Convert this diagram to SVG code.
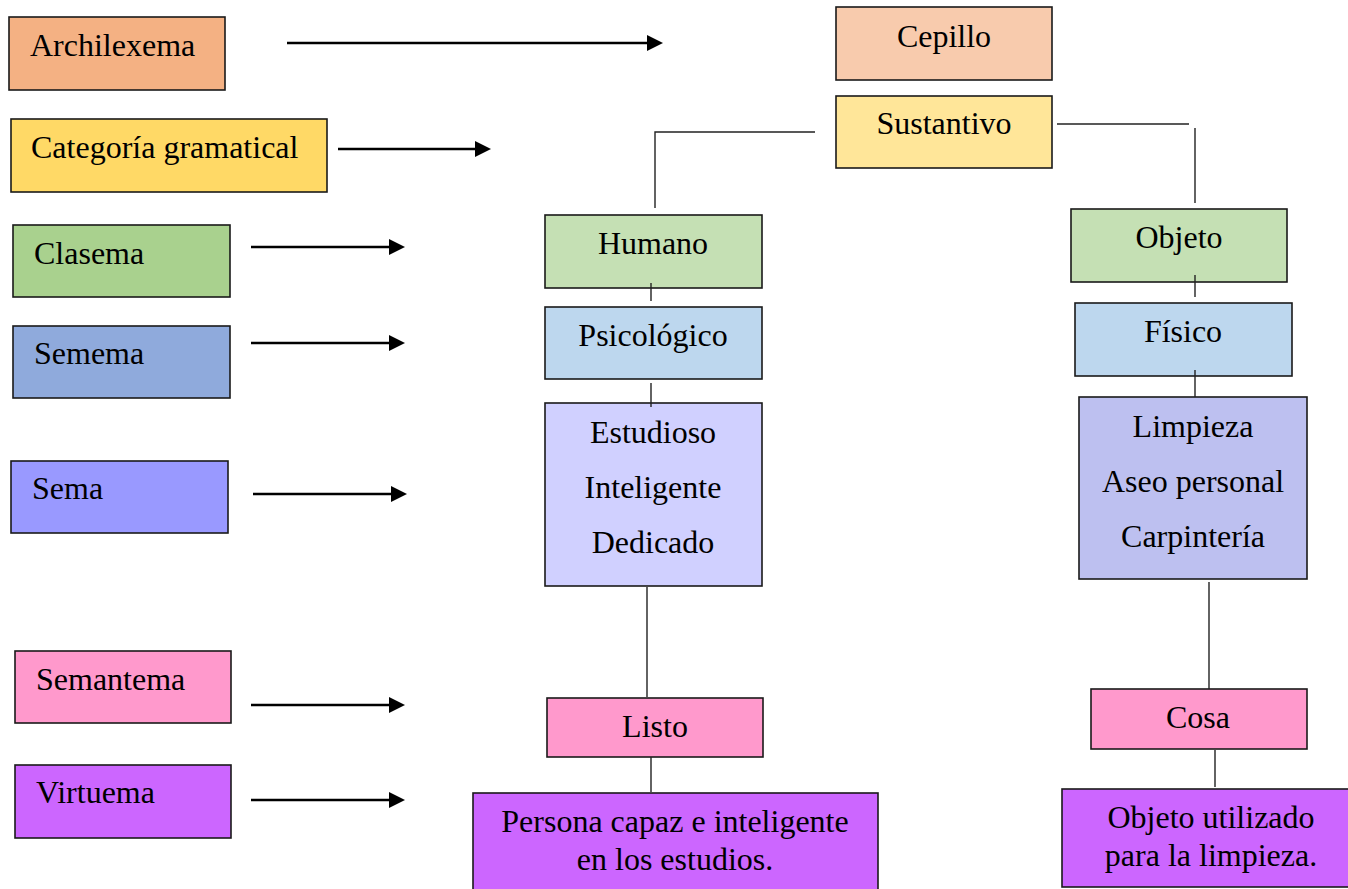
<svg xmlns="http://www.w3.org/2000/svg" width="1348" height="889" viewBox="0 0 1348 889">
  <style>
    .box { stroke: #1a1a1a; stroke-width: 1.6; }
    .lbl { font-family: "Liberation Serif", "Times New Roman", serif; font-size: 32px; fill: #000; }
    .mid { text-anchor: middle; }
    .arrow { stroke: #000; stroke-width: 2.7; fill: none; marker-end: url(#head); }
    .tree { stroke: #222; stroke-width: 1.4; fill: none; }
  </style>
  <defs>
    <marker id="head" markerUnits="userSpaceOnUse" markerWidth="17" markerHeight="17" refX="5" refY="8" orient="auto">
      <path d="M0,0 L16,8 L0,16 Z" fill="#000"/>
    </marker>
  </defs>
  <rect width="1348" height="889" fill="#fff"/>

  <!-- level labels (left column) -->
  <g id="archilexema">
    <rect class="box" x="9" y="17" width="216" height="73" fill="#F4B183"/>
    <text class="lbl" x="30" y="56">Archilexema</text>
  </g>
  <g id="categoria">
    <rect class="box" x="11" y="119" width="316" height="73" fill="#FFD966"/>
    <text class="lbl" x="31" y="158">Categoría gramatical</text>
  </g>
  <g id="clasema">
    <rect class="box" x="13" y="225" width="217" height="72" fill="#A9D18E"/>
    <text class="lbl" x="34" y="264">Clasema</text>
  </g>
  <g id="semema">
    <rect class="box" x="13" y="326" width="217" height="72" fill="#8FAADC"/>
    <text class="lbl" x="34" y="364">Semema</text>
  </g>
  <g id="sema">
    <rect class="box" x="11" y="461" width="217" height="72" fill="#9999FF"/>
    <text class="lbl" x="32" y="499">Sema</text>
  </g>
  <g id="semantema">
    <rect class="box" x="15" y="651" width="216" height="72" fill="#FF99CC"/>
    <text class="lbl" x="36" y="690">Semantema</text>
  </g>
  <g id="virtuema">
    <rect class="box" x="15" y="765" width="216" height="73" fill="#CC66FF"/>
    <text class="lbl" x="36" y="803">Virtuema</text>
  </g>

  <!-- tree nodes -->
  <g id="cepillo">
    <rect class="box" x="836" y="7" width="216" height="73" fill="#F8CBAD"/>
    <text class="lbl mid" x="944" y="47">Cepillo</text>
  </g>
  <g id="sustantivo">
    <rect class="box" x="836" y="96" width="216" height="72" fill="#FFE699"/>
    <text class="lbl mid" x="944" y="134">Sustantivo</text>
  </g>
  <g id="humano">
    <rect class="box" x="545" y="215" width="217" height="73" fill="#C5E0B4"/>
    <text class="lbl mid" x="653" y="254">Humano</text>
  </g>
  <g id="psicologico">
    <rect class="box" x="545" y="307" width="217" height="72" fill="#BDD7EE"/>
    <text class="lbl mid" x="653" y="346">Psicológico</text>
  </g>
  <g id="semas-humano">
    <rect class="box" x="545" y="403" width="217" height="183" fill="#D0D0FF"/>
    <text class="lbl mid" x="653" y="443">Estudioso</text>
    <text class="lbl mid" x="653" y="498">Inteligente</text>
    <text class="lbl mid" x="653" y="553">Dedicado</text>
  </g>
  <g id="listo">
    <rect class="box" x="547" y="698" width="216" height="59" fill="#FF99CC"/>
    <text class="lbl mid" x="655" y="737">Listo</text>
  </g>
  <g id="persona">
    <rect class="box" x="473" y="793" width="405" height="110" fill="#CC66FF"/>
    <text class="lbl mid" x="675" y="832">Persona capaz e inteligente</text>
    <text class="lbl mid" x="675" y="870">en los estudios.</text>
  </g>
  <g id="objeto">
    <rect class="box" x="1071" y="209" width="216" height="73" fill="#C5E0B4"/>
    <text class="lbl mid" x="1179" y="248">Objeto</text>
  </g>
  <g id="fisico">
    <rect class="box" x="1075" y="303" width="217" height="73" fill="#BDD7EE"/>
    <text class="lbl mid" x="1183" y="342">Físico</text>
  </g>
  <g id="semas-objeto">
    <rect class="box" x="1079" y="397" width="228" height="182" fill="#BDC0F0"/>
    <text class="lbl mid" x="1193" y="437">Limpieza</text>
    <text class="lbl mid" x="1193" y="492">Aseo personal</text>
    <text class="lbl mid" x="1193" y="547">Carpintería</text>
  </g>
  <g id="cosa">
    <rect class="box" x="1091" y="689" width="216" height="60" fill="#FF99CC"/>
    <text class="lbl mid" x="1198" y="728">Cosa</text>
  </g>
  <g id="objeto-utilizado">
    <rect class="box" x="1062" y="789" width="290" height="98" fill="#CC66FF"/>
    <text class="lbl mid" x="1211" y="828">Objeto utilizado</text>
    <text class="lbl mid" x="1211" y="866">para la limpieza.</text>
  </g>

  <!-- connectors -->
  <g id="connectors">
    <line class="arrow" x1="287" y1="43" x2="652" y2="43"/>
    <line class="arrow" x1="338" y1="149" x2="480" y2="149"/>
    <line class="arrow" x1="251" y1="247" x2="394" y2="247"/>
    <line class="arrow" x1="251" y1="343" x2="394" y2="343"/>
    <line class="arrow" x1="253" y1="494" x2="396" y2="494"/>
    <line class="arrow" x1="251" y1="705" x2="394" y2="705"/>
    <line class="arrow" x1="251" y1="800" x2="394" y2="800"/>

    <polyline class="tree" points="815,132 655,132 655,208"/>
    <line class="tree" x1="1057" y1="124" x2="1189" y2="124"/>
    <line class="tree" x1="1195" y1="128" x2="1195" y2="203"/>
    <line class="tree" x1="651" y1="283" x2="651" y2="301"/>
    <line class="tree" x1="651" y1="383" x2="651" y2="407"/>
    <line class="tree" x1="647" y1="587" x2="647" y2="697"/>
    <line class="tree" x1="651" y1="757" x2="651" y2="792"/>
    <line class="tree" x1="1195" y1="275" x2="1195" y2="297"/>
    <line class="tree" x1="1195" y1="370" x2="1195" y2="397"/>
    <line class="tree" x1="1209" y1="582" x2="1209" y2="689"/>
    <line class="tree" x1="1215" y1="750" x2="1215" y2="787"/>
  </g>
</svg>
